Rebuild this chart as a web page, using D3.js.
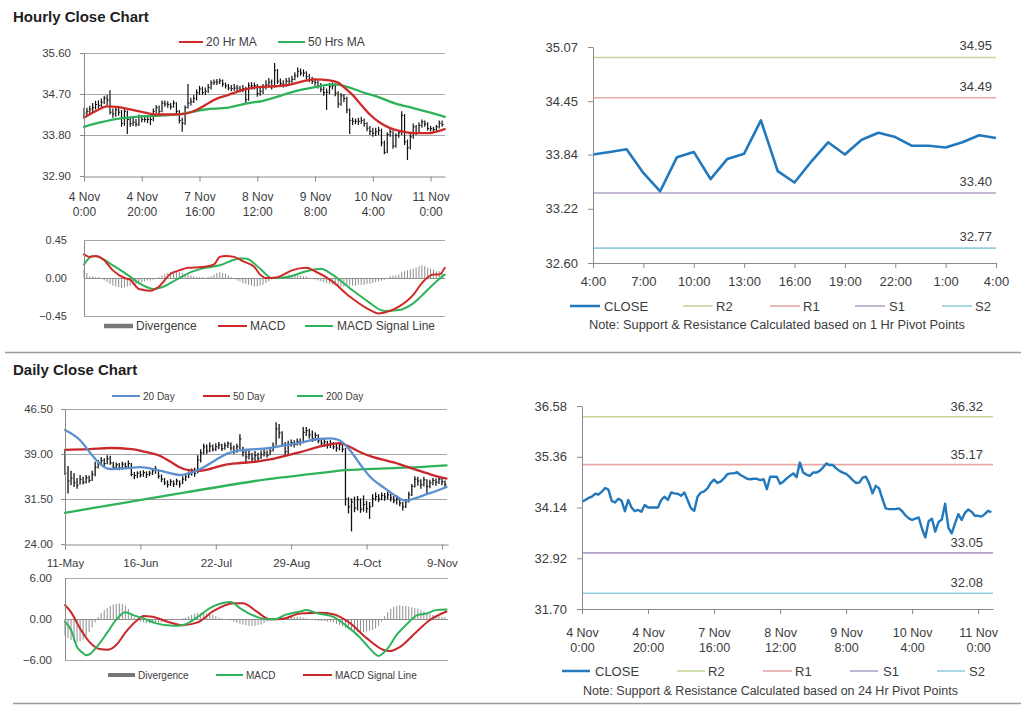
<!DOCTYPE html>
<html><head><meta charset="utf-8">
<script src="https://cdn.jsdelivr.net/npm/d3@7"></script>
<style>body{margin:0;background:#fff}svg{display:block;font-family:Arial,"Liberation Sans",Helvetica,sans-serif}</style>
</head><body>
<svg width="1024" height="705"></svg>
<script>
// ---------------- DATA ----------------
const hourlyTickIdx = [0,20,40,60,80,100,120];
const hourlyTickLabels = [["4 Nov","0:00"],["4 Nov","20:00"],["7 Nov","16:00"],["8 Nov","12:00"],["9 Nov","8:00"],["10 Nov","4:00"],["11 Nov","0:00"]];
const hourlyPriceTicks = [32.90,33.80,34.70,35.60];
const hourlyClose = [34.28,34.32,34.37,34.40,34.47,34.45,34.52,34.61,34.57,34.30,
34.26,34.35,34.30,34.05,34.32,34.14,34.05,34.08,34.04,34.20,
34.14,34.14,34.14,34.14,34.32,34.40,34.32,34.50,34.48,34.47,
34.42,34.50,34.32,34.12,34.06,34.40,34.50,34.53,34.60,34.73,
34.81,34.73,34.76,34.84,34.94,34.96,34.96,34.99,34.92,34.88,
34.83,34.82,34.83,34.83,34.80,34.82,34.58,34.88,34.88,34.88,
34.71,34.76,34.84,34.90,34.96,34.87,35.22,34.98,34.93,34.90,
34.98,34.98,35.02,35.10,35.20,35.16,35.16,35.08,35.02,34.98,
34.95,34.88,34.80,34.73,34.74,34.86,34.88,34.72,34.48,34.66,
34.60,34.35,34.12,34.10,34.10,34.10,34.12,34.05,33.95,33.88,
33.84,33.87,33.90,33.63,33.42,33.81,33.87,33.56,33.79,33.85,
34.23,33.65,33.52,33.76,33.98,33.84,34.01,34.09,34.04,33.94,
33.94,33.92,33.98,34.06,34.03];
const hourlyHigh = [34.40,34.40,34.44,34.50,34.55,34.56,34.60,34.66,34.68,34.78,
34.38,34.42,34.40,34.35,34.38,34.34,34.20,34.18,34.15,34.25,
34.24,34.20,34.22,34.20,34.38,34.46,34.45,34.56,34.56,34.54,
34.50,34.56,34.52,34.35,34.18,34.45,34.92,34.62,34.68,34.80,
34.88,34.86,34.84,34.92,35.00,35.02,35.03,35.04,35.02,34.95,
34.92,34.90,34.92,34.90,34.88,34.90,34.86,34.95,34.96,34.95,
34.92,34.85,34.92,35.00,35.05,35.02,35.38,35.25,35.04,35.00,
35.05,35.06,35.10,35.18,35.28,35.26,35.24,35.20,35.14,35.08,
35.04,35.00,34.94,34.86,34.82,34.94,34.95,34.92,34.76,34.72,
34.70,34.64,34.38,34.18,34.16,34.18,34.20,34.16,34.08,34.00,
33.96,33.96,33.98,33.94,33.68,33.86,33.94,33.90,33.84,33.90,
34.32,34.26,33.70,33.82,34.05,34.02,34.08,34.14,34.12,34.08,
34.00,33.98,34.02,34.12,34.12];
const hourlyLow = [34.18,34.22,34.28,34.30,34.36,34.38,34.40,34.48,34.45,34.25,
34.18,34.20,34.22,33.98,34.00,33.82,33.98,34.00,33.98,34.00,
34.08,34.08,34.06,34.02,34.10,34.28,34.26,34.30,34.42,34.40,
34.36,34.40,34.26,34.05,33.87,34.02,34.38,34.45,34.50,34.56,
34.68,34.68,34.68,34.72,34.80,34.90,34.90,34.92,34.86,34.82,
34.78,34.76,34.77,34.76,34.74,34.74,34.50,34.55,34.80,34.80,
34.64,34.66,34.70,34.80,34.85,34.80,34.84,34.92,34.86,34.84,
34.86,34.90,34.94,35.00,35.06,35.10,35.08,35.02,34.96,34.92,
34.88,34.82,34.74,34.66,34.35,34.70,34.80,34.65,34.40,34.44,
34.52,34.28,33.82,34.02,34.04,34.02,34.04,33.98,33.88,33.80,
33.76,33.78,33.80,33.55,33.38,33.40,33.76,33.50,33.52,33.74,
33.80,33.58,33.25,33.48,33.72,33.80,33.82,33.96,33.98,33.90,
33.88,33.86,33.88,33.94,33.98];
// moving averages read at sample bars
const ma20hIdx = [0,4,8,12,16,20,25,30,34,37,41,45,50,55,60,66,71,76,80,85,88,90,93,96,99,102,106,110,114,119,124.9];
const ma20hVal = [34.18,34.32,34.43,34.41,34.36,34.31,34.25,34.25,34.26,34.30,34.42,34.57,34.68,34.79,34.85,34.87,34.90,34.98,35.02,35.00,34.95,34.85,34.68,34.46,34.25,34.09,33.95,33.88,33.84,33.84,33.93];
const ma50hIdx = [0,6,12,18,24,33,42,50,57,62,68,73,80,84,87,92,96,102,108,114,120,124.9];
const ma50hVal = [33.98,34.08,34.16,34.20,34.22,34.26,34.36,34.40,34.50,34.55,34.66,34.76,34.85,34.90,34.91,34.84,34.75,34.63,34.49,34.39,34.29,34.20];
// hourly MACD
const hMacdIdx = [0,2,4,7,10,14,16,19,23,26,30,33,36,41,45,47,49,52,55,59,61,63,67,69,72,77,80,86,92,98,102,106,109,114,117,121,123,124.9];
const hMacdVal = [0.28,0.25,0.26,0.21,0.09,0.00,-0.02,-0.13,-0.15,-0.10,0.05,0.09,0.12,0.13,0.16,0.25,0.26,0.25,0.20,0.13,0.04,0.00,0.01,0.04,0.09,0.12,0.08,-0.04,-0.22,-0.36,-0.42,-0.39,-0.34,-0.20,-0.06,0.04,0.04,0.12];
const hSignalIdx = [0,3,5,10,15,19,24,27,32,37,42,47,54,56,61,65,70,77,82,86,92,98,104,109,114,119,122,124.9];
const hSignalVal = [0.16,0.26,0.25,0.15,0.04,-0.06,-0.13,-0.11,-0.02,0.07,0.12,0.15,0.23,0.23,0.11,0.00,0.01,0.08,0.11,0.04,-0.12,-0.27,-0.39,-0.38,-0.30,-0.14,-0.04,0.04];
const hDivergence = [0.10,0.06,0.02,0.02,0.01,0.01,-0.01,-0.03,-0.05,-0.07,
-0.09,-0.10,-0.11,-0.12,-0.11,-0.10,-0.09,-0.08,-0.07,-0.06,
-0.05,-0.04,-0.03,-0.03,-0.02,-0.01,0.01,0.03,0.05,0.06,
0.07,0.08,0.07,0.07,0.06,0.05,0.04,0.03,0.02,0.01,
0.01,0.01,0.00,0.01,0.02,0.04,0.06,0.07,0.06,0.05,
0.03,0.01,-0.01,-0.03,-0.04,-0.06,-0.07,-0.08,-0.09,-0.10,
-0.10,-0.09,-0.08,-0.06,-0.04,-0.02,0.00,0.01,0.02,0.03,
0.03,0.04,0.04,0.04,0.03,0.03,0.02,0.02,0.00,-0.01,
-0.02,-0.03,-0.04,-0.05,-0.06,-0.07,-0.08,-0.09,-0.10,-0.10,
-0.10,-0.10,-0.09,-0.09,-0.09,-0.08,-0.08,-0.08,-0.07,-0.07,
-0.06,-0.05,-0.04,-0.03,-0.02,0.00,0.02,0.03,0.03,0.04,
0.07,0.08,0.09,0.10,0.11,0.12,0.14,0.15,0.14,0.12,
0.11,0.10,0.08,0.08,0.07];
const hMacdTicks = [-0.45,0.00,0.45];

// 1 hr pivot panel (last 25 hourly closes, 10 Nov 4:00 - 11 Nov 4:00)
const pivot1hStart = 100;
const pivot1hTickIdx = [0,3,6,9,12,15,18,21,24];
const pivot1hTickLabels = ["4:00","7:00","10:00","13:00","16:00","19:00","22:00","1:00","4:00"];
const pivot1hTicks = [32.60,33.22,33.84,34.45,35.07];
const pivot1hNames = ["R2","R1","S1","S2"];
const pivot1hLevels = [34.95,34.49,33.40,32.77];
// 24 hr pivot panel
const pivot24hTicks = [31.70,32.92,34.14,35.36,36.58];
const pivot24hLevels = [36.32,35.17,33.05,32.08];

// Daily
const dailyTickIdx = [0,25,50,75,100,125];
const dailyTickLabels = ["11-May","16-Jun","22-Jul","29-Aug","4-Oct","9-Nov"];
const dailyPriceTicks = [24.00,31.50,39.00,46.50];
const dailyClose = [35.8,34.5,35.0,34.2,33.8,34.8,34.3,35.0,34.6,35.6,
36.8,37.6,37.9,37.4,38.2,37.5,36.8,37.2,36.7,37.3,
36.9,37.4,35.6,35.4,35.8,35.5,35.9,35.6,35.8,36.2,
36.5,35.3,34.8,34.2,33.9,34.4,34.0,34.5,34.0,34.8,
35.2,35.6,36.0,35.8,38.0,39.2,40.2,39.5,40.3,39.8,
40.2,40.5,39.9,40.4,40.7,40.0,39.4,40.2,41.5,39.3,
38.5,38.9,38.2,38.8,38.3,38.9,39.2,38.8,39.5,40.3,
43.2,42.5,40.6,39.4,40.6,40.9,40.6,41.1,40.9,42.6,
42.9,42.2,41.6,42.1,41.2,40.8,41.0,40.4,40.8,40.2,
40.0,40.5,39.8,31.5,30.2,31.0,30.0,31.4,29.8,30.6,
29.9,30.2,31.6,31.9,31.5,32.1,31.8,32.2,31.7,31.2,
31.5,30.8,30.2,31.0,32.2,33.6,34.8,34.5,33.9,34.7,
33.6,34.2,34.6,34.3,34.8,34.4,33.9];
const dailyHigh = [39.7,37.0,36.2,35.8,35.0,35.5,35.2,35.5,35.4,36.2,
37.7,38.0,38.5,38.3,38.8,38.7,37.7,37.6,37.5,37.7,
37.6,37.9,37.5,36.0,36.1,36.2,36.3,36.1,36.2,36.5,
37.0,36.4,35.6,35.0,34.6,34.8,34.6,34.9,34.6,35.3,
35.6,36.1,36.6,36.7,38.8,39.8,40.7,40.6,40.9,40.6,
40.8,41.0,40.7,40.9,41.1,40.9,40.4,40.7,42.3,40.2,
39.5,39.6,39.2,39.5,39.2,39.6,39.8,39.6,40.0,40.9,
44.3,44.0,42.8,41.0,41.2,41.4,41.3,41.6,41.6,43.5,
43.5,43.2,42.9,42.6,42.3,41.6,41.5,41.2,41.3,41.0,
40.7,41.0,40.8,40.0,31.8,31.6,31.9,32.0,31.6,32.1,
31.2,31.0,32.3,32.6,32.3,32.6,32.5,32.7,32.4,32.0,
32.1,31.6,31.0,31.5,32.7,34.0,35.3,35.2,34.8,35.2,
34.8,34.7,35.0,34.9,35.1,35.0,34.6];
const dailyLow = [35.5,32.4,33.8,33.5,33.2,33.9,33.9,34.1,34.2,34.5,
35.3,36.6,37.2,37.0,37.3,37.2,36.5,36.5,36.3,36.4,
36.5,36.6,35.3,34.8,35.0,35.1,35.2,35.0,35.3,35.5,
35.7,34.9,34.3,33.8,33.4,33.7,33.5,33.8,33.4,34.0,
34.5,35.0,35.4,35.2,35.8,37.6,38.9,39.0,39.3,39.4,
39.5,39.8,39.5,39.7,40.0,39.6,39.0,39.2,39.8,38.6,
37.4,38.1,37.6,37.5,37.8,38.2,38.6,38.4,38.8,39.4,
40.4,41.6,40.2,38.8,39.0,40.2,40.1,40.4,40.4,40.8,
42.0,41.6,41.0,41.2,40.8,40.3,40.2,39.9,40.0,39.8,
39.4,39.6,39.3,30.4,29.1,26.1,29.3,29.6,29.2,29.4,
29.2,28.2,30.2,31.2,31.0,31.3,31.2,31.4,31.1,30.8,
30.6,30.3,29.6,30.0,30.9,32.0,33.4,33.7,33.2,33.6,
32.3,33.3,33.8,33.7,34.0,33.8,33.3];
const ma20dIdx = [0,5,9,12,15,20,25,30,34,38,42,46,50,54,58,63,68,73,78,84,88,91,95,98,101,106,110,113,116,120,124,126.5];
const ma20dVal = [43.0,41.3,38.8,37.2,36.5,36.6,36.8,36.4,35.9,35.5,35.9,36.8,38.0,39.1,39.6,39.8,40.0,40.5,40.9,41.5,41.6,41.3,39.3,37.2,35.3,33.3,31.9,31.2,31.6,32.3,33.0,33.5];
const ma50dIdx = [0,8,15,22,27,31,35,38,41,44,48,53,58,63,68,73,78,84,88,91,94,98,101,105,109,115,120,124,126.5];
const ma50dVal = [39.7,39.8,40.0,39.8,39.3,38.8,37.7,36.8,36.3,36.2,36.5,37.2,37.5,37.7,38.1,38.7,39.3,40.2,40.6,40.8,40.3,39.3,38.7,38.1,37.6,36.6,35.8,35.2,34.9];
const ma200dIdx = [0,20,40,63,84,93,106,117,126.5];
const ma200dVal = [29.2,30.9,32.6,34.5,35.8,36.3,36.6,36.8,37.1];
const dMacdIdx = [0,2,4,6,7,8,10.5,14,17,20,23,26,30,36,39,44,48,52,55,58,62,67,70,73,78,80,84,89,93,98,101,104,107,110,113,117,120,123,126.5];
const dMacdVal = [-0.4,-1.6,-4.1,-5.0,-5.3,-5.2,-4.1,-2.0,-0.1,0.98,0.5,0.1,-0.6,-1.0,-0.9,0.3,1.6,2.3,2.5,1.6,0.6,-0.05,0.0,0.6,1.1,1.3,0.8,0.3,-0.9,-2.8,-4.3,-5.4,-4.3,-2.3,-0.9,0.6,0.8,1.3,1.4];
const dSignalIdx = [0,2,5,8,11.5,14,17,20,24,26,29,34,39,44,49,56,59,63.5,68,72,78,84.5,89,94.5,100,105.5,107.7,111,116.6,121,126.5];
const dSignalVal = [2.05,1.0,-1.4,-3.3,-4.4,-4.5,-3.8,-2.0,-0.15,0.44,0.34,-0.4,-0.9,-0.5,1.1,2.3,2.3,1.1,-0.05,0.0,0.8,0.9,0.7,-0.6,-2.8,-4.5,-4.7,-4.1,-1.85,-0.15,1.1];
const dDivergence = [-2.4,-2.8,-3.1,-3.3,-3.4,-3.3,-3.0,-2.5,-1.9,-1.2,
-0.5,0.3,0.9,1.3,1.6,1.9,2.1,2.2,2.3,2.2,
2.0,1.5,0.8,0.2,-0.2,-0.4,-0.5,-0.6,-0.6,-0.6,
-0.5,-0.5,-0.4,-0.3,-0.2,-0.2,-0.1,-0.1,0.0,0.1,
0.2,0.4,0.6,0.8,0.9,0.9,0.9,0.8,0.7,0.6,
0.4,0.2,0.1,0.0,-0.1,-0.2,-0.4,-0.6,-0.7,-0.8,
-0.9,-1.0,-1.0,-1.0,-0.9,-0.8,-0.6,-0.4,-0.2,0.0,
0.1,0.2,0.3,0.3,0.4,0.4,0.3,0.3,0.3,0.2,
0.1,0.0,-0.1,-0.2,-0.3,-0.3,-0.3,-0.4,-0.4,-0.5,
-0.7,-0.9,-1.1,-1.3,-1.5,-1.7,-1.8,-1.9,-1.9,-1.9,
-1.8,-1.7,-1.6,-1.4,-1.0,-0.4,0.4,1.0,1.5,1.8,
1.9,2.0,1.9,1.9,1.8,1.7,1.6,1.5,1.3,1.1,
0.9,0.7,0.6,0.5,0.4,0.3,0.3];
const dMacdTicks = [-6.00,0.00,6.00];

// ---------------- DRAWING ----------------
const svg = d3.select("svg");
const FONT = 'Arial,"Liberation Sans",Helvetica,sans-serif';
const GRID = "#a6a6a6", AXIS = "#8a8a8a", TXT = "#3c3c3c";
const RED = "#cf2a27", GREEN = "#2fb35a", BLUE20 = "#5b8fcf", CLOSE = "#2178bd", DIV = "#8c8c8c";
const LVL = ["#c3d69b","#e8a8a8","#b3a2c8","#93cfdd"];

function styleAxis(g, fs) {
  g.attr("font-family", FONT);
  g.select(".domain").attr("stroke", AXIS);
  g.selectAll(".tick line").attr("stroke", AXIS);
  g.selectAll(".tick text").attr("fill", TXT).attr("font-size", fs);
}
function curve(g, xs, ys, x, y, color, w) {
  const pts = xs.map((d, i) => [d, ys[i]]);
  g.append("path").datum(pts).attr("fill", "none").attr("stroke", color)
    .attr("stroke-width", w).attr("stroke-linejoin", "round").attr("stroke-linecap", "round")
    .attr("d", d3.line().x(d => x(d[0])).y(d => y(d[1])).curve(d3.curveMonotoneX));
}
function grid(g, vals, y, x0, x1, color) {
  g.selectAll(null).data(vals).join("line")
    .attr("x1", x0).attr("x2", x1).attr("y1", d => Math.round(y(d)) + 0.5).attr("y2", d => Math.round(y(d)) + 0.5)
    .attr("stroke", color || GRID).attr("stroke-width", 1);
}
function legLine(x1, x2, y, color, w, label, tx, fs) {
  svg.append("line").attr("x1", x1).attr("x2", x2).attr("y1", y).attr("y2", y).attr("stroke", color).attr("stroke-width", w);
  svg.append("text").attr("x", tx).attr("y", y + fs * 0.36).attr("font-size", fs).attr("fill", TXT).attr("font-family", FONT).text(label);
}
function legBar(x1, x2, y, h, label, tx, fs) {
  svg.append("rect").attr("x", x1).attr("y", y - h / 2).attr("width", x2 - x1).attr("height", h).attr("fill", "#777");
  svg.append("text").attr("x", tx).attr("y", y + fs * 0.36).attr("font-size", fs).attr("fill", TXT).attr("font-family", FONT).text(label);
}
function ohlc(g, close, high, low, x, y, w) {
  g.selectAll(null).data(close).join("line")
    .attr("x1", (d, i) => x(i)).attr("x2", (d, i) => x(i))
    .attr("y1", (d, i) => y(high[i])).attr("y2", (d, i) => y(low[i]))
    .attr("stroke", "#111").attr("stroke-width", w);
  g.selectAll(null).data(close).join("line")
    .attr("x1", (d, i) => x(i)).attr("x2", (d, i) => x(i) + 1.6)
    .attr("y1", d => y(d)).attr("y2", d => y(d))
    .attr("stroke", "#111").attr("stroke-width", 1);
}
function twoLineX(ax, labels, fs, dy1, dy2) {
  ax.selectAll(".tick").each(function (d, k) {
    const t = d3.select(this).append("text").attr("fill", TXT).attr("font-size", fs).attr("text-anchor", "middle");
    t.append("tspan").attr("x", 0).attr("y", dy1).text(labels[k][0]);
    t.append("tspan").attr("x", 0).attr("y", dy2).text(labels[k][1]);
  });
}

// titles & separators
svg.append("text").attr("x", 13).attr("y", 22).attr("font-size", 15).attr("font-weight", "bold").attr("fill", "#1e1e1e").attr("font-family", FONT).text("Hourly Close Chart");
svg.append("text").attr("x", 13).attr("y", 375).attr("font-size", 15).attr("font-weight", "bold").attr("fill", "#1e1e1e").attr("font-family", FONT).text("Daily Close Chart");
svg.append("line").attr("x1", 5).attr("x2", 1021).attr("y1", 352.5).attr("y2", 352.5).attr("stroke", "#9c9c9c").attr("stroke-width", 1.5);
svg.append("line").attr("x1", 13).attr("x2", 1021).attr("y1", 703.5).attr("y2", 703.5).attr("stroke", "#9c9c9c").attr("stroke-width", 1.5);

// ---- Hourly price (top-left)
{
  const x = d3.scaleLinear().domain([0, 125]).range([84, 445]);
  const y = d3.scaleLinear().domain([32.9, 35.6]).range([176, 53]);
  const g = svg.append("g");
  grid(g, hourlyPriceTicks.slice(1), y, 84, 445);
  ohlc(g, hourlyClose, hourlyHigh, hourlyLow, x, y, 1.2);
  curve(g, ma50hIdx, ma50hVal, x, y, GREEN, 2.3);
  curve(g, ma20hIdx, ma20hVal, x, y, RED, 2.3);
  const ay = g.append("g").attr("transform", "translate(84,0)")
    .call(d3.axisLeft(y).tickValues(hourlyPriceTicks).tickFormat(d3.format(".2f")).tickSize(4).tickPadding(9).tickSizeOuter(0));
  styleAxis(ay, 11.5);
  const ax = g.append("g").attr("transform", "translate(0,176.5)")
    .call(d3.axisBottom(x).tickValues(hourlyTickIdx).tickFormat("").tickSize(5).tickSizeOuter(0));
  styleAxis(ax, 12);
  twoLineX(ax, hourlyTickLabels, 12, 24, 39);
  legLine(179, 203, 42, RED, 2, "20 Hr MA", 206, 12);
  legLine(278, 305, 42, GREEN, 2, "50 Hrs MA", 308, 12);
}

// ---- Hourly MACD
{
  const x = d3.scaleLinear().domain([0, 125]).range([84, 445]);
  const y = d3.scaleLinear().domain([-0.45, 0.45]).range([316, 240]);
  const g = svg.append("g");
  grid(g, [0.45, -0.45], y, 84, 445);
  g.selectAll(null).data(hDivergence).join("line")
    .attr("x1", (d, i) => x(i)).attr("x2", (d, i) => x(i)).attr("y1", y(0)).attr("y2", d => y(d))
    .attr("stroke", DIV).attr("stroke-width", 1);
  grid(g, [0], y, 84, 445, "#8f8f8f");
  curve(g, hSignalIdx, hSignalVal, x, y, GREEN, 2);
  curve(g, hMacdIdx, hMacdVal, x, y, RED, 2);
  const ay = g.append("g").attr("transform", "translate(84,0)")
    .call(d3.axisLeft(y).tickValues(hMacdTicks).tickFormat(d3.format(".2f")).tickSize(0).tickPadding(17).tickSizeOuter(0));
  styleAxis(ay, 11);
  legBar(104, 133, 326, 4.5, "Divergence", 136, 12);
  legLine(218, 247, 326, RED, 2, "MACD", 250, 12);
  legLine(305, 333, 326, GREEN, 2, "MACD Signal Line", 337, 12);
}

// ---- 1 Hr pivot (top-right)
{
  const data = hourlyClose.slice(pivot1hStart);
  const x = d3.scaleLinear().domain([0, 24]).range([593, 996]);
  const y = d3.scaleLinear().domain([32.60, 35.07]).range([263, 47]);
  const g = svg.append("g");
  pivot1hLevels.forEach((v, k) => {
    g.append("line").attr("x1", 593).attr("x2", 996).attr("y1", y(v)).attr("y2", y(v)).attr("stroke", LVL[k]).attr("stroke-width", 1.6);
    g.append("text").attr("x", 992).attr("y", y(v) - 7).attr("text-anchor", "end").attr("font-size", 13).attr("fill", TXT).attr("font-family", FONT).text(d3.format(".2f")(v));
  });
  g.append("path").datum(data).attr("fill", "none").attr("stroke", CLOSE).attr("stroke-width", 2.6).attr("stroke-linejoin", "round")
    .attr("d", d3.line().x((d, i) => x(i)).y(d => y(d)));
  const ay = g.append("g").attr("transform", "translate(593,0)")
    .call(d3.axisLeft(y).tickValues(pivot1hTicks).tickFormat(d3.format(".2f")).tickSize(5).tickPadding(10).tickSizeOuter(0));
  styleAxis(ay, 13);
  const ax = g.append("g").attr("transform", "translate(0,263)")
    .call(d3.axisBottom(x).tickValues(pivot1hTickIdx).tickFormat((d, k) => pivot1hTickLabels[k]).tickSize(5).tickPadding(9).tickSizeOuter(0));
  styleAxis(ax, 13);
  legLine(570, 600, 306, CLOSE, 2.5, "CLOSE", 604, 13);
  legLine(683, 713, 306, LVL[0], 1.6, pivot1hNames[0], 716, 13);
  legLine(770, 800, 306, LVL[1], 1.6, pivot1hNames[1], 803, 13);
  legLine(855, 885, 306, LVL[2], 1.6, pivot1hNames[2], 889, 13);
  legLine(942, 972, 306, LVL[3], 1.6, pivot1hNames[3], 975, 13);
  svg.append("text").attr("x", 589).attr("y", 329).attr("font-size", 12.5).attr("fill", TXT).attr("font-family", FONT)
    .attr("textLength", 376).attr("lengthAdjust", "spacingAndGlyphs").text("Note: Support & Resistance Calculated based on 1 Hr Pivot Points");
}

// ---- 24 Hr pivot (bottom-right)
{
  const x = d3.scaleLinear().domain([0, 124.5]).range([582, 993]);
  const y = d3.scaleLinear().domain([31.70, 36.58]).range([609, 406]);
  const g = svg.append("g");
  pivot24hLevels.forEach((v, k) => {
    g.append("line").attr("x1", 582).attr("x2", 993).attr("y1", y(v)).attr("y2", y(v)).attr("stroke", LVL[k]).attr("stroke-width", 1.6);
    g.append("text").attr("x", 983).attr("y", y(v) - 6).attr("text-anchor", "end").attr("font-size", 13).attr("fill", TXT).attr("font-family", FONT).text(d3.format(".2f")(v));
  });
  g.append("path").datum(hourlyClose).attr("fill", "none").attr("stroke", CLOSE).attr("stroke-width", 2.4).attr("stroke-linejoin", "round")
    .attr("d", d3.line().x((d, i) => x(i)).y(d => y(d)));
  const ay = g.append("g").attr("transform", "translate(582,0)")
    .call(d3.axisLeft(y).tickValues(pivot24hTicks).tickFormat(d3.format(".2f")).tickSize(5).tickPadding(10).tickSizeOuter(0));
  styleAxis(ay, 13);
  const ax = g.append("g").attr("transform", "translate(0,609)")
    .call(d3.axisBottom(x).tickValues(hourlyTickIdx).tickFormat("").tickSize(5).tickSizeOuter(0));
  styleAxis(ax, 12.5);
  twoLineX(ax, hourlyTickLabels, 12.5, 28, 43);
  legLine(562, 590, 671, CLOSE, 2.5, "CLOSE", 595, 13);
  legLine(677, 705, 671, LVL[0], 1.6, pivot1hNames[0], 708, 13);
  legLine(763, 792, 671, LVL[1], 1.6, pivot1hNames[1], 795, 13);
  legLine(850, 878, 671, LVL[2], 1.6, pivot1hNames[2], 883, 13);
  legLine(937, 965, 671, LVL[3], 1.6, pivot1hNames[3], 969, 13);
  svg.append("text").attr("x", 583).attr("y", 695).attr("font-size", 12.5).attr("fill", TXT).attr("font-family", FONT)
    .attr("textLength", 375).attr("lengthAdjust", "spacingAndGlyphs").text("Note: Support & Resistance Calculated based on 24 Hr Pivot Points");
}

// ---- Daily price
{
  const x = d3.scaleLinear().domain([0, 127]).range([65, 448]);
  const y = d3.scaleLinear().domain([24, 46.5]).range([544, 409]);
  const g = svg.append("g");
  grid(g, dailyPriceTicks.slice(1), y, 65, 447);
  ohlc(g, dailyClose, dailyHigh, dailyLow, x, y, 1.3);
  curve(g, ma200dIdx, ma200dVal, x, y, GREEN, 2.3);
  curve(g, ma50dIdx, ma50dVal, x, y, "#c8282a", 2.3);
  curve(g, ma20dIdx, ma20dVal, x, y, BLUE20, 2.3);
  const ay = g.append("g").attr("transform", "translate(65,0)")
    .call(d3.axisLeft(y).tickValues(dailyPriceTicks).tickFormat(d3.format(".2f")).tickSize(4).tickPadding(8).tickSizeOuter(0));
  styleAxis(ay, 11.5);
  const ax = g.append("g").attr("transform", "translate(0,544.5)")
    .call(d3.axisBottom(x).tickValues(dailyTickIdx).tickFormat((d, k) => dailyTickLabels[k]).tickSize(5).tickPadding(9).tickSizeOuter(0));
  styleAxis(ax, 11.5);
  legLine(112, 140, 396, BLUE20, 2, "20 Day", 143, 10);
  legLine(203, 230, 396, "#c8282a", 2, "50 Day", 233, 10);
  legLine(297, 323, 396, GREEN, 2, "200 Day", 326, 10);
}

// ---- Daily MACD
{
  const x = d3.scaleLinear().domain([0, 127]).range([65, 448]);
  const y = d3.scaleLinear().domain([-6, 6]).range([660, 578]);
  const g = svg.append("g");
  grid(g, [6, -6], y, 65, 448);
  g.selectAll(null).data(dDivergence).join("line")
    .attr("x1", (d, i) => x(i)).attr("x2", (d, i) => x(i)).attr("y1", y(0)).attr("y2", d => y(d))
    .attr("stroke", DIV).attr("stroke-width", 1);
  grid(g, [0], y, 65, 448, "#8f8f8f");
  curve(g, dSignalIdx, dSignalVal, x, y, "#c8282a", 2);
  curve(g, dMacdIdx, dMacdVal, x, y, GREEN, 2);
  const ay = g.append("g").attr("transform", "translate(65,0)")
    .call(d3.axisLeft(y).tickValues(dMacdTicks).tickFormat(d3.format(".2f")).tickSize(0).tickPadding(13).tickSizeOuter(0));
  styleAxis(ay, 11.5);
  legBar(108, 135, 675, 4, "Divergence", 138, 10);
  legLine(216, 243, 675, GREEN, 2, "MACD", 246, 10);
  legLine(303, 332, 675, "#c8282a", 2, "MACD Signal Line", 335, 10);
}
</script>
</body></html>
